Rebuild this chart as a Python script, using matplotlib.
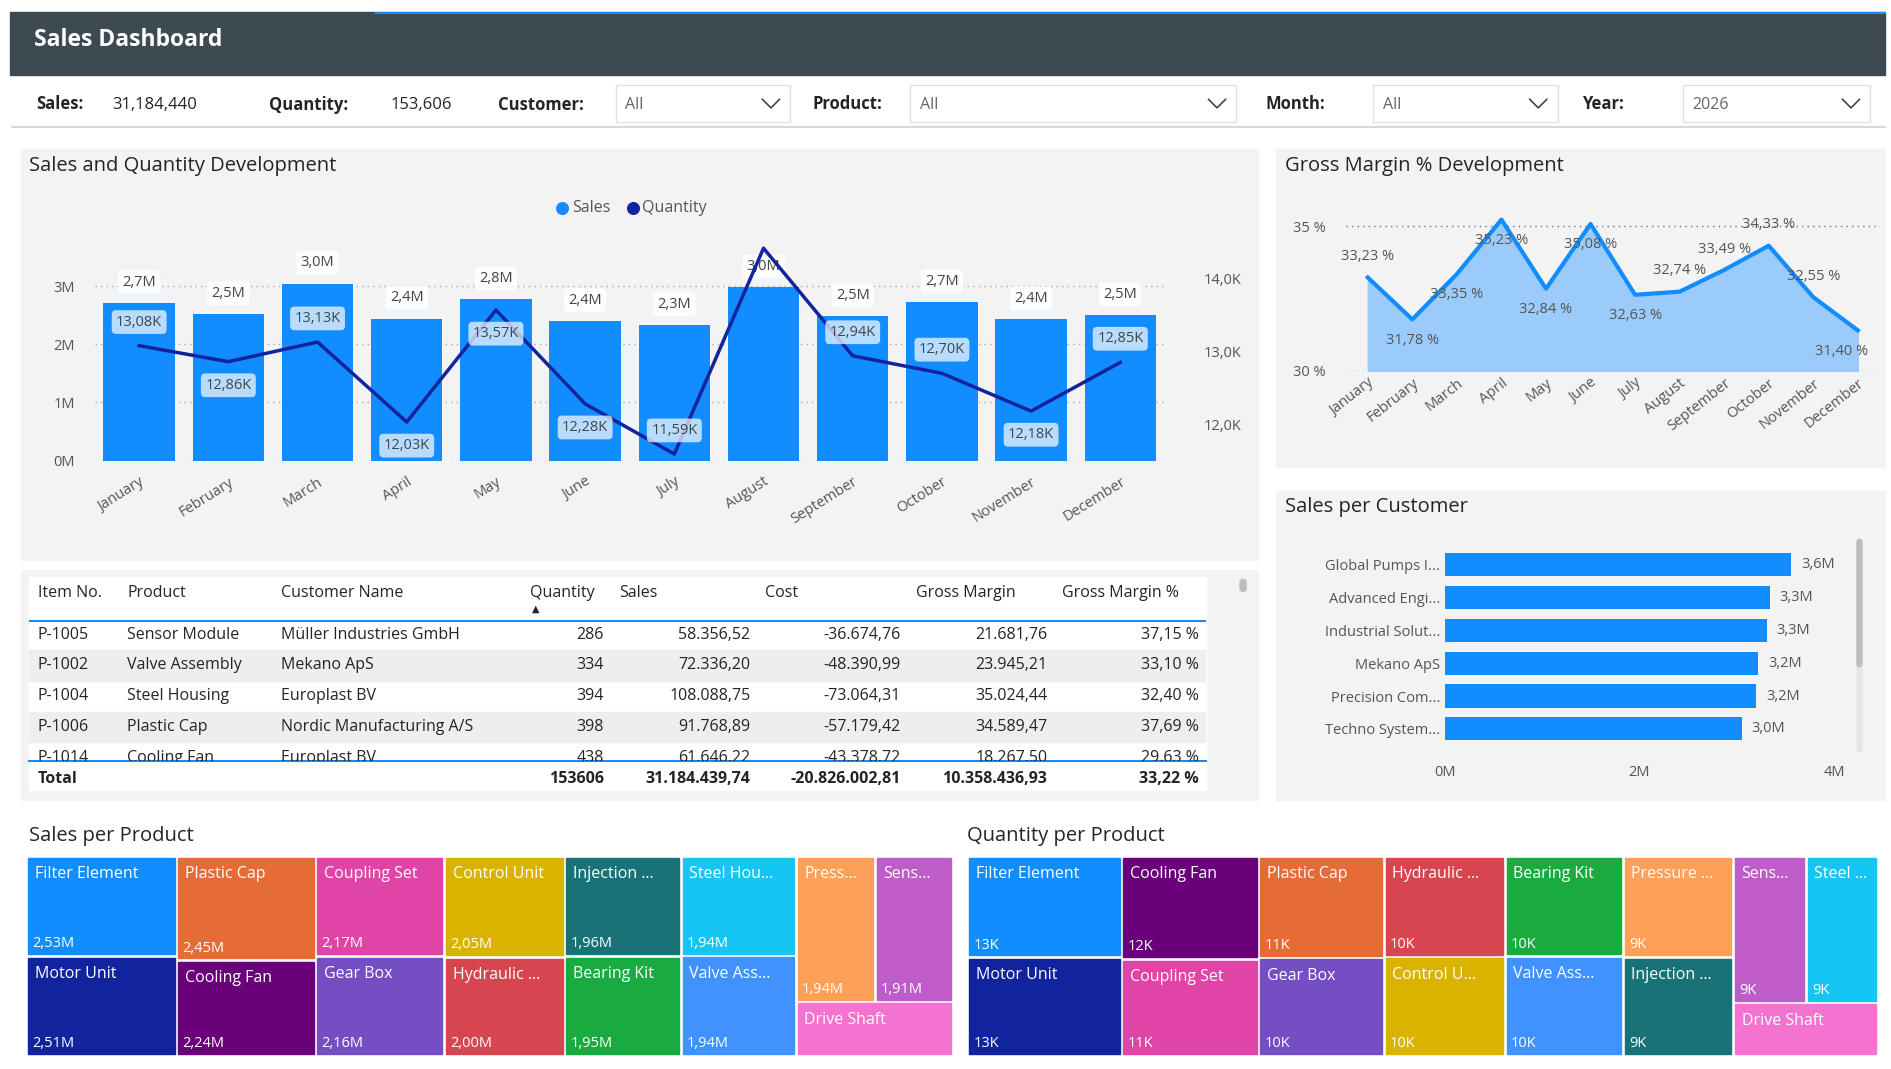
import matplotlib
matplotlib.use("Agg")
import matplotlib.pyplot as plt
from matplotlib.patches import Rectangle, FancyBboxPatch
import numpy as np

plt.rcParams['font.family'] = ['Open Sans', 'DejaVu Sans']

months = ["January","February","March","April","May","June","July","August",
          "September","October","November","December"]
sales_m = [2.71,2.52,3.04,2.44,2.77,2.40,2.33,2.98,2.48,2.72,2.43,2.50]
qty_k = [13.08,12.86,13.13,12.03,13.57,12.28,11.59,14.42,12.94,12.70,12.18,12.85]
qty_show = [True]*7 + [False] + [True]*4
gm_pct = [33.23,31.78,33.35,35.23,32.84,35.08,32.63,32.74,33.49,34.33,32.55,31.40]

customers = ["Global Pumps I...","Advanced Engi...","Industrial Solut...","Mekano ApS",
             "Precision Com...","Techno System..."]
cust_sales = [3.56,3.34,3.31,3.22,3.20,3.05]

tbl_cols = ["Item No.","Product","Customer Name","Quantity","Sales","Cost","Gross Margin","Gross Margin %"]
tbl_rows = [
 ["P-1005","Sensor Module","Müller Industries GmbH","286","58.356,52","-36.674,76","21.681,76","37,15 %"],
 ["P-1002","Valve Assembly","Mekano ApS","334","72.336,20","-48.390,99","23.945,21","33,10 %"],
 ["P-1004","Steel Housing","Europlast BV","394","108.088,75","-73.064,31","35.024,44","32,40 %"],
 ["P-1006","Plastic Cap","Nordic Manufacturing A/S","398","91.768,89","-57.179,42","34.589,47","37,69 %"],
 ["P-1014","Cooling Fan","Europlast BV","438","61.646,22","-43.378,72","18.267,50","29,63 %"],
]
tbl_total = ["Total","","","153606","31.184.439,74","-20.826.002,81","10.358.436,93","33,22 %"]

sp_names = ["Filter Element","Motor Unit","Plastic Cap","Cooling Fan","Coupling Set","Gear Box",
            "Control Unit","Hydraulic ...","Injection ...","Bearing Kit","Steel Hou...","Valve Ass...",
            "Press...","Sens...","Drive Shaft"]
sp_vals = [2.53,2.51,2.45,2.24,2.17,2.16,2.05,2.00,1.96,1.95,1.94,1.94,1.94,1.91,1.43]
sp_lbls = ["2,53M","2,51M","2,45M","2,24M","2,17M","2,16M","2,05M","2,00M","1,96M","1,95M",
           "1,94M","1,94M","1,94M","1,91M",""]
qp_names = ["Filter Element","Motor Unit","Cooling Fan","Coupling Set","Plastic Cap","Gear Box",
            "Hydraulic ...","Control U...","Bearing Kit","Valve Ass...","Pressure ...","Injection ...",
            "Sens...","Steel ...","Drive Shaft"]
qp_vals = [13.2,12.8,11.9,11.2,10.8,10.4,10.3,10.1,10.0,9.9,9.4,9.2,9.0,8.9,6.5]
qp_lbls = ["13K","13K","12K","11K","11K","10K","10K","10K","10K","10K","9K","9K","9K","9K",""]

colors = {"Filter Element":"#118DFF","Motor Unit":"#12239E","Plastic Cap":"#E66C37",
          "Cooling Fan":"#6B007B","Coupling Set":"#E044A7","Gear Box":"#744EC2",
          "Control":"#D9B300","Hydraulic":"#D64550","Injection":"#197278","Bearing Kit":"#1AAB40",
          "Steel":"#15C6F4","Valve":"#4092FF","Press":"#FFA058","Sens":"#BE5DC9","Drive Shaft":"#F472D0"}
def col_for(n):
    for k, c in colors.items():
        if n.startswith(k):
            return c
    return "#888888"

W, H = 1560, 882
fig = plt.figure(figsize=(18.91, 10.69), dpi=100)
def rect(x0, y0, x1, y1):
    return [x0/W, 1-y1/H, (x1-x0)/W, (y1-y0)/H]

bg = fig.add_axes([0,0,1,1], zorder=0)
bg.set_xlim(0, W); bg.set_ylim(H, 0); bg.axis('off')

TXT = "#252423"
FS = 11.5
# header
bg.add_patch(Rectangle((8,10),1547,52,color="#3E4A52"))
bg.plot([310,1555],[10.5,10.5],color="#118DFF",lw=1.5)
bg.text(28,33,"Sales Dashboard",color="white",fontsize=16.5,fontweight='bold',va='center')
def lbl(x,y,s,bold=False,size=12,c=TXT):
    bg.text(x,y,s,fontsize=size,fontweight='bold' if bold else 'normal',color=c,va='center')
lbl(30,86,"Sales:",True); lbl(93,87,"31,184,440")
lbl(222,87,"Quantity:",True); lbl(322,87,"153,606")
lbl(411,87,"Customer:",True)
lbl(670,86,"Product:",True)
lbl(1044,86,"Month:",True)
lbl(1305,86,"Year:",True)
for (x0,x1,t) in [(508,652,"All"),(751,1020,"All"),(1133,1285,"All"),(1388,1543,"2026")]:
    bg.add_patch(Rectangle((x0,70),x1-x0,31,fill=False,ec="#E1E1E1",lw=1))
    bg.text(x0+8,87,t,fontsize=11.5,color="#666666",va='center')
    cx = x1-16
    bg.plot([cx-7,cx,cx+7],[82,89,82],color="#444444",lw=1.2)
bg.plot([10,1555],[105,105],color="#D8D8D8",lw=1.5)

PANEL = "#F3F3F3"
for (x0,y0,x1,y1) in [(17,123,1038,462),(1053,123,1555,385),(1053,405,1555,660),(17,470,1038,660)]:
    bg.add_patch(Rectangle((x0,y0),x1-x0,y1-y0,color=PANEL,zorder=0))
bg.text(24,137,"Sales and Quantity Development",fontsize=14.5,color=TXT,va='center')
bg.text(1060,137,"Gross Margin % Development",fontsize=14.5,color=TXT,va='center')
bg.text(1060,418,"Sales per Customer",fontsize=14.5,color=TXT,va='center')
bg.text(24,690,"Sales per Product",fontsize=14.5,color=TXT,va='center')
bg.text(798,690,"Quantity per Product",fontsize=14.5,color=TXT,va='center')

bg.scatter([464],[172],s=70,color="#118DFF"); bg.text(472,172,"Sales",fontsize=11.5,color="#555",va='center')
bg.scatter([522],[172],s=70,color="#12239E"); bg.text(530,172,"Quantity",fontsize=11.5,color="#555",va='center')

# ---- Sales & quantity chart
ax = fig.add_axes(rect(78,200,961,380), zorder=2)
ax.set_facecolor('none')
x = np.arange(12)
ax.bar(x, sales_m, width=0.8, color="#118DFF", zorder=2)
ax.set_xlim(-0.5,11.5); ax.set_ylim(0,3.75)
ax.set_yticks([0,1,2,3]); ax.set_yticklabels(["0M","1M","2M","3M"])
ax.yaxis.grid(True, ls=(0,(1,3)), color="#AAAAAA", lw=1)
ax.set_axisbelow(True)
for s in ax.spines.values(): s.set_visible(False)
ax.tick_params(length=0, labelsize=10.5, colors="#555555", pad=14)
ax.set_xticks(x); ax.set_xticklabels(months, rotation=32, ha='right', rotation_mode='anchor')
ax.tick_params(axis='x', pad=10)
ax2 = ax.twinx()
ax2.set_ylim(11.5,14.5)
ax2.plot(x, qty_k, color="#12239E", lw=2.5, zorder=3)
ax2.set_yticks([12,13,14]); ax2.set_yticklabels(["12,0K","13,0K","14,0K"])
for s in ax2.spines.values(): s.set_visible(False)
ax2.tick_params(length=0, labelsize=10.5, colors="#555555", pad=28)
for i,v in enumerate(sales_m):
    ax.annotate(f"{v:.1f}M".replace('.',','), (i,v), xytext=(0,15), textcoords='offset points',
                ha='center', va='center', fontsize=10.5, color="#444444", zorder=5,
                bbox=dict(boxstyle='round,pad=0.3', fc='white', ec='none', alpha=0.85))
q_off = [1,-1,1,-1,-1,-1,1,0,1,1,-1,1]
for i,v in enumerate(qty_k):
    if not qty_show[i]: continue
    ax2.annotate(f"{v:.2f}K".replace('.',','), (i,v), xytext=(0,17*q_off[i]), textcoords='offset points',
                 ha='center', va='center', fontsize=10.5, color="#444444", zorder=5,
                 bbox=dict(boxstyle='round,pad=0.3', fc='white', ec='none', alpha=0.7))

# ---- Gross margin chart
gx = fig.add_axes(rect(1110,170,1551,306), zorder=2)
gx.set_facecolor('none')
gx.fill_between(x, gm_pct, 30, color="#9BCBFA", zorder=1)
gx.plot(x, gm_pct, color="#118DFF", lw=3, zorder=2)
gx.set_xlim(-0.5,11.5); gx.set_ylim(30,35.7)
gx.set_yticks([30,35]); gx.set_yticklabels(["30 %","35 %"])
gx.yaxis.grid(True, ls=(0,(1,3)), color="#777777", lw=1)
gx.set_axisbelow(True)
for s in gx.spines.values(): s.set_visible(False)
gx.tick_params(length=0, labelsize=10.5, colors="#555555")
gx.tick_params(axis='y', pad=14)
gx.set_xticks(x); gx.set_xticklabels(months, rotation=38, ha='right', rotation_mode='anchor')
g_off = [1,-1,-1,-1,-1,-1,-1,1,1,1,1,-1]
for i,v in enumerate(gm_pct):
    dx = -12 if i == 11 else 0
    gx.annotate(f"{v:.2f} %".replace('.',','), (i,v), xytext=(dx,15*g_off[i]), textcoords='offset points',
                ha='center', va='center', fontsize=10.5, color="#555555", zorder=5, clip_on=False)

# ---- Sales per customer
cx_ = fig.add_axes(rect(1192,452,1513,615), zorder=2)
cx_.set_facecolor('none')
yy = np.arange(len(customers))
cx_.barh(yy, cust_sales, height=0.7, color="#118DFF")
cx_.set_ylim(len(customers)-0.5,-0.5); cx_.set_xlim(0,4)
cx_.set_yticks(yy); cx_.set_yticklabels(customers)
cx_.set_xticks([0,2,4]); cx_.set_xticklabels(["0M","2M","4M"])
for s in cx_.spines.values(): s.set_visible(False)
cx_.tick_params(length=0, labelsize=10.5, colors="#555555")
cx_.tick_params(axis='x', pad=14)
for i,v in enumerate(cust_sales):
    cx_.text(v+0.1, i, f"{v:.1f}M".replace('.',','), va='center', fontsize=10.5, color="#555555")
bg.add_patch(FancyBboxPatch((1532,445),4,175,boxstyle='round,pad=0,rounding_size=2',color="#E6E6E6",zorder=1))
bg.add_patch(FancyBboxPatch((1532,445),4,105,boxstyle='round,pad=0,rounding_size=2',color="#BDBDBD",zorder=1))

# ---- Table
bg.add_patch(Rectangle((24,476),971,176,color="white",zorder=1))
ta = fig.add_axes(rect(24,476,995,628), zorder=3)
ta.set_xlim(24,995); ta.set_ylim(628,476); ta.axis('off')
ta.patch.set_visible(False)
lefts = [31,105,232,437,511,631,756,876]
rights = [None,None,None,498,619,743,864,989]
TF = 11.5
for j,c in enumerate(tbl_cols):
    ta.text(lefts[j],489,c,fontsize=TF,color=TXT,va='center')
ta.text(442,503,"▲",fontsize=7,color=TXT,va='center',ha='center')
ta.plot([24,995],[512,512],color="#118DFF",lw=1.5)
row_y = [524,549,574,600,625]
for r,(row,y) in enumerate(zip(tbl_rows,row_y)):
    if r % 2 == 1:
        ta.add_patch(Rectangle((24,y-12.5),971,25,color="#EEEEEE",zorder=0))
    for j,v in enumerate(row):
        if rights[j] is None:
            ta.text(lefts[j],y,v,fontsize=TF,color=TXT,va='center',clip_on=True)
        else:
            ta.text(rights[j],y,v,fontsize=TF,color=TXT,va='center',ha='right',clip_on=True)
bg.plot([24,995],[628,628],color="#118DFF",lw=1.5,zorder=4)
for j,v in enumerate(tbl_total):
    if not v: continue
    if rights[j] is None:
        bg.text(lefts[j],643,v,fontsize=TF,fontweight='bold',color=TXT,va='center',zorder=4)
    else:
        bg.text(rights[j],643,v,fontsize=TF,fontweight='bold',color=TXT,va='center',ha='right',zorder=4)
bg.add_patch(FancyBboxPatch((1023,478),5,10,boxstyle='round,pad=0,rounding_size=2.5',color="#BDBDBD",zorder=2))

# ---- Treemaps
def treemap(names, vals, lbls, x0, y0, x1, y1):
    total = sum(vals)
    Wd = x1-x0; Ht = y1-y0
    gap = 1.5
    cx = x0
    n = len(vals)
    i = 0
    while i < n:
        if n - i == 3:
            grp = vals[i:i+3]
            cw = Wd*sum(grp)/total
            top_h = Ht*(grp[0]+grp[1])/sum(grp)
            wa = cw*grp[0]/(grp[0]+grp[1])
            tiles = [(cx,y0,wa,top_h,i),(cx+wa,y0,cw-wa,top_h,i+1),(cx,y0+top_h,cw,Ht-top_h,i+2)]
            i += 3
        else:
            grp = vals[i:i+2]
            cw = Wd*sum(grp)/total
            ha = Ht*grp[0]/sum(grp)
            tiles = [(cx,y0,cw,ha,i),(cx,y0+ha,cw,Ht-ha,i+1)]
            i += 2
        for (tx,ty,tw,th,k) in tiles:
            bg.add_patch(Rectangle((tx+gap,ty+gap),tw-2*gap,th-2*gap,color=col_for(names[k]),zorder=1))
            bg.text(tx+7,ty+15,names[k],fontsize=11.5,color="white",va='center',zorder=2)
            if lbls[k]:
                bg.text(tx+5,ty+th-10,lbls[k],fontsize=10.5,color="white",va='center',zorder=2)
        cx += cw
treemap(sp_names, sp_vals, sp_lbls, 22, 706, 786, 871)
treemap(qp_names, qp_vals, qp_lbls, 798, 706, 1549, 871)

fig.savefig("out.png", dpi=100)
